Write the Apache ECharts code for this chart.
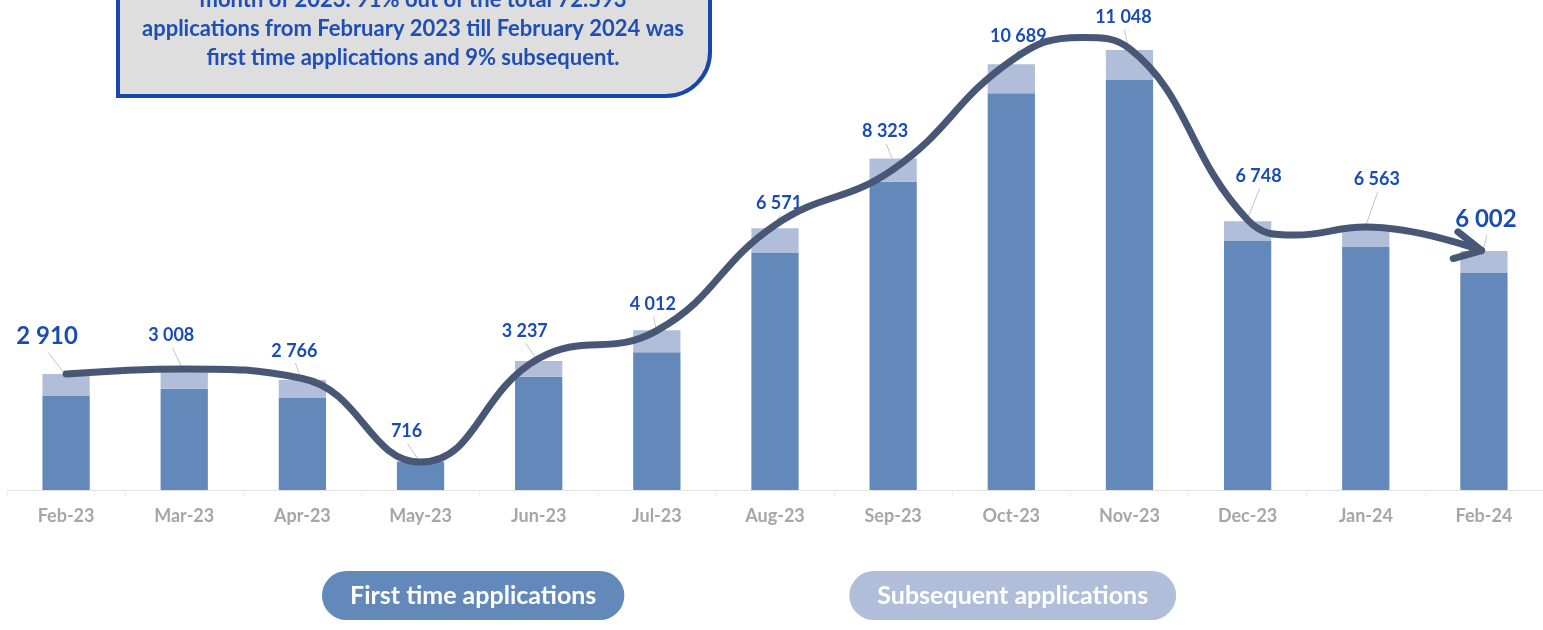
<!DOCTYPE html>
<html>
<head>
<meta charset="utf-8">
<script src="https://cdn.jsdelivr.net/npm/echarts@6/dist/echarts.min.js"></script>
<style>
  html, body { margin: 0; padding: 0; background: #fff; }
  #main { width: 1543px; height: 630px; }
</style>
</head>
<body>
<div id="main"></div>
<script>
// months
const months = ['Feb-23', 'Mar-23', 'Apr-23', 'May-23', 'Jun-23', 'Jul-23', 'Aug-23',
  'Sep-23', 'Oct-23', 'Nov-23', 'Dec-23', 'Jan-24', 'Feb-24'];
// total applications per month (labels)
const totals = [2910, 3008, 2766, 716, 3237, 4012, 6571, 8323, 10689, 11048, 6748, 6563, 6002];
const firstTime = [2360, 2540, 2310, 716, 2840, 3460, 5950, 7740, 9960, 10290, 6250, 6110, 5450];
// subsequent = the rest of the total
const subsequent = totals.map((t, i) => t - firstTime[i]);

// hand drawn trend curve: x in category index, y in applications
const trendX = [0, 1, 2, 3, 4, 5, 6, 7, 8, 8.6, 9, 10, 10.4, 11, 11.98];
const trendY = [2910, 3040, 2800, 700, 3300, 4000, 6650, 8050, 10780, 11360, 11080, 6780, 6400, 6600, 6010];
// arrow head at the end of the curve
const arrowX = [11.78, 11.98, 11.74];
const arrowY = [6480, 6010, 5810];

// label position tweaks (px, from bar top centre)
const labelShift = [[-19, -38], [-13, -35], [-8, -29], [-14, -30], [-14, -30], [-4, -26], [4, -25],
  [-8, -27], [7, -28], [-6, -33], [11, -45], [11, -49], [2, -32]];

const myChart = echarts.init(document.getElementById('main'));

const font = 'Lato, "Open Sans", sans-serif';
const lineColor = '#485775';

function fmt(v) {
  return String(v).replace(/\B(?=(\d{3})+(?!\d))/g, ' ');
}

const option = {
  animation: false,
  grid: { left: 7, right: 0, top: 0, bottom: 140 },
  legend: {
    left: 312,
    top: 566,
    itemWidth: 0,
    itemHeight: 0,
    itemGap: 220,
    selectedMode: false,
    data: [
      {
        name: 'First time applications',
        textStyle: { backgroundColor: '#6389ba' }
      },
      {
        name: 'Subsequent applications',
        textStyle: { backgroundColor: '#b1bed9' }
      }
    ],
    textStyle: {
      color: '#fff',
      fontFamily: font,
      fontWeight: 'bold',
      fontSize: 25,
      padding: [12, 28, 12, 28],
      borderRadius: 25
    }
  },
  xAxis: [
    {
      type: 'category',
      data: months,
      axisLine: { lineStyle: { color: '#e3e3e3', width: 1 } },
      axisTick: { show: true, interval: 0, length: 6, lineStyle: { color: '#ececec' } },
      axisLabel: {
        color: '#a6a6a6',
        fontFamily: font,
        fontWeight: 'bold',
        fontSize: 18,
        margin: 17
      }
    },
    {
      type: 'value',
      min: -0.5,
      max: 12.5,
      show: false
    }
  ],
  yAxis: { type: 'value', min: 0, max: 12300, show: false },
  graphic: [
    {
      type: 'group',
      left: 116,
      top: -60,
      children: [
        {
          type: 'rect',
          shape: { x: 2, y: 0, width: 592, height: 154, r: [0, 0, 44, 0] },
          style: { fill: '#dedede', stroke: '#1747ac', lineWidth: 4 }
        },
        {
          type: 'text',
          x: 297,
          y: 43,
          style: {
            text: 'month of 2023. 91% out of the total 72.593\napplications from February 2023 till February 2024 was\nfirst time applications and 9% subsequent.',
            align: 'center',
            fill: '#1f4eb4',
            font: 'bold 22px ' + font,
            lineHeight: 29
          }
        }
      ]
    }
  ],
  series: [
    {
      name: 'First time applications',
      type: 'bar',
      stack: 'total',
      barWidth: '40%',
      itemStyle: { color: '#6389ba' },
      data: firstTime
    },
    {
      name: 'Subsequent applications',
      type: 'bar',
      stack: 'total',
      barWidth: '40%',
      itemStyle: { color: '#b1bed9' },
      data: subsequent
    },
    {
      // total labels with leader lines
      name: 'totals',
      type: 'custom',
      data: totals.map((t, i) => [i, t]),
      z: 3,
      renderItem: (params, api) => {
        const i = params.dataIndex;
        const top = api.coord([api.value(0), api.value(1)]);
        const big = (i === 0 || i === months.length - 1);
        const fs = big ? 24 : 18;
        const lx = top[0] + labelShift[i][0];
        const ly = top[1] + labelShift[i][1];
        return {
          type: 'group',
          children: [
            {
              type: 'line',
              shape: { x1: lx + 1, y1: ly + fs * 0.68, x2: top[0] - 1, y2: top[1] },
              style: { stroke: '#c4c4c4', lineWidth: 1 }
            },
            {
              type: 'text',
              x: lx,
              y: ly,
              style: {
                text: fmt(api.value(1)),
                align: 'center',
                verticalAlign: 'middle',
                fill: '#1a4db3',
                font: 'bold ' + fs + 'px ' + font
              }
            }
          ]
        };
      }
    },
    {
      name: 'trend',
      type: 'line',
      xAxisIndex: 1,
      smooth: 0.45,
      symbol: 'none',
      lineStyle: { color: lineColor, width: 7, cap: 'round' },
      data: trendX.map((x, i) => [x, trendY[i]]),
      z: 4
    },
    {
      name: 'arrow',
      type: 'line',
      xAxisIndex: 1,
      symbol: 'none',
      lineStyle: { color: lineColor, width: 7, cap: 'round', join: 'round' },
      data: arrowX.map((x, i) => [x, arrowY[i]]),
      z: 4
    }
  ]
};

myChart.setOption(option);
window.addEventListener('resize', () => myChart.resize());
</script>
</body>
</html>
